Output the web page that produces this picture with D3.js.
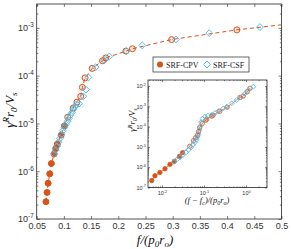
<!DOCTYPE html>
<html>
<head>
<meta charset="utf-8">
<script src="https://cdn.jsdelivr.net/npm/d3@7"></script>
<style>
  body { margin: 0; background: #fff; }
</style>
</head>
<body>
<div id="chart"></div>
<script>
// main panel: SRF-CPV (orange circles)
const cpvF = [0.067, 0.069, 0.071, 0.074, 0.077, 0.082, 0.085, 0.088, 0.095, 0.101, 0.107, 0.117, 0.124, 0.131, 0.134, 0.139, 0.152, 0.171, 0.177, 0.214, 0.226, 0.298, 0.418];
const cpvY = [2.3e-7, 3.6e-7, 5.6e-7, 8.8e-7, 1.45e-6, 2.3e-6, 3.0e-6, 3.7e-6, 5.7e-6, 8.9e-6, 1.35e-5, 2.1e-5, 2.8e-5, 3.7e-5, 5.7e-5, 9.0e-5, 1.42e-4, 2.05e-4, 2.35e-4, 3.27e-4, 3.66e-4, 5.7e-4, 9.1e-4];
// main panel: SRF-CSF (blue diamonds)
const csfF = [0.082, 0.0846, 0.0873, 0.0901, 0.0928, 0.0956, 0.0983, 0.1011, 0.1039, 0.1066, 0.1094, 0.1121, 0.1149, 0.1176, 0.1204, 0.1232, 0.1278, 0.1357, 0.1406, 0.145, 0.1584, 0.1742, 0.1834, 0.2154, 0.2441, 0.306, 0.3672, 0.4604];
const csfY = [2.3e-6, 2.75e-6, 3.34e-6, 4.05e-6, 4.9e-6, 5.95e-6, 7.05e-6, 8.3e-6, 9.6e-6, 1.11e-5, 1.28e-5, 1.48e-5, 1.71e-5, 1.98e-5, 2.23e-5, 2.52e-5, 2.6e-5, 3.7e-5, 5.1e-5, 9.2e-5, 1.51e-4, 2.09e-4, 2.53e-4, 3.27e-4, 4.3e-4, 5.73e-4, 7.77e-4, 1.04e-3];
// dashed fit continues past the last point
const fitTailF = [0.5];
const fitTailY = [1.16e-3];

// inset: (f - fc) vs rate, log-log
const inCpvX = [0.0057, 0.0068, 0.0089, 0.0118, 0.0155, 0.0196, 0.026, 0.031, 0.046, 0.056, 0.063, 0.07, 0.074, 0.079, 0.091, 0.11, 0.116, 0.153, 0.165, 0.237, 0.357, 0.72, 0.86, 1.07, 1.24];
const inCpvY = [2.2e-7, 3.8e-7, 5.5e-7, 8.4e-7, 1.38e-6, 1.94e-6, 3.4e-6, 5.2e-6, 1.07e-5, 2.0e-5, 2.8e-5, 3.7e-5, 5.7e-5, 9.0e-5, 1.42e-4, 2.05e-4, 2.35e-4, 3.27e-4, 3.66e-4, 5.7e-4, 9.1e-4, 2.75e-3, 3.2e-3, 5.2e-3, 7.7e-3];
const inCsfX = [0.0193, 0.0228, 0.0268, 0.0316, 0.0373, 0.0427, 0.049, 0.0547, 0.061, 0.066, 0.07, 0.074, 0.077, 0.081, 0.086, 0.092, 0.106, 0.124, 0.152, 0.183, 0.219, 0.288, 0.347, 0.457, 0.601, 0.76, 0.946, 1.13, 1.49];
const inCsfY = [1.83e-6, 2.43e-6, 3.05e-6, 4.06e-6, 5.4e-6, 7.2e-6, 9.5e-6, 1.27e-5, 1.69e-5, 2.25e-5, 3.0e-5, 4.2e-5, 6.6e-5, 1.05e-4, 1.65e-4, 2.46e-4, 3.09e-4, 3.47e-4, 3.67e-4, 4.6e-4, 5.8e-4, 7.9e-4, 9.4e-4, 1.39e-3, 2.03e-3, 2.7e-3, 4.35e-3, 6.3e-3, 9.2e-3];

const xTicks = [0.05, 0.1, 0.15, 0.2, 0.25, 0.3, 0.35, 0.4, 0.45, 0.5];
const yTicks = [1e-7, 1e-6, 1e-5, 1e-4, 1e-3];
const inXTicks = [1e-2, 1e-1, 1];
const inYTicks = [1e-7, 1e-6, 1e-5, 1e-4, 1e-3, 1e-2];
const seriesNames = ["SRF-CPV", "SRF-CSF"];

const orange = "#D95319";
const blue = "#4DBEEE";
const axisCol = "#262626";
const serif = "'Liberation Serif', 'DejaVu Serif', serif";

const W = 291, H = 249;
const svg = d3.select("#chart").append("svg")
  .attr("width", W).attr("height", H)
  .style("font-family", "'Liberation Sans', Arial, sans-serif");

function diamond(r) {
  return `M0,${-r}L${r},0L0,${r}L${-r},0Z`;
}

function minorLogTicks(scale) {
  const [a, b] = scale.domain();
  const out = [];
  for (let e = Math.floor(Math.log10(a)); e <= Math.ceil(Math.log10(b)); e++) {
    for (let m = 2; m <= 9; m++) {
      const v = m * Math.pow(10, e);
      if (v >= a && v <= b) out.push(v);
    }
  }
  return out;
}

function powLabel(sel, fs) {
  sel.each(function(d) {
    const t = d3.select(this);
    const e = Math.round(Math.log10(d));
    t.text("");
    t.append("tspan").text("10");
    t.append("tspan").attr("dy", -fs * 0.45).style("font-size", (fs * 0.7) + "px").text(e);
  });
}

// boxed frame, inward ticks on all four sides
function drawFrame(g, x, y, opt) {
  const [x0, x1] = x.range();
  const [y0, y1] = y.range();
  const styleAxis = a => {
    a.select(".domain").remove();
    a.selectAll("line").attr("stroke", axisCol).attr("stroke-width", 0.6);
    a.selectAll("text").attr("fill", "#333").style("font-size", opt.fs + "px");
  };

  if (opt.xMinor) {
    const mx = minorLogTicks(x);
    g.append("g").attr("transform", `translate(0,${y0})`)
      .call(d3.axisBottom(x).tickValues(mx).tickSizeInner(-opt.minor).tickSizeOuter(0).tickFormat(""))
      .call(styleAxis);
    g.append("g").attr("transform", `translate(0,${y1})`)
      .call(d3.axisTop(x).tickValues(mx).tickSizeInner(-opt.minor).tickSizeOuter(0).tickFormat(""))
      .call(styleAxis);
  }
  if (opt.yMinor) {
    const my = minorLogTicks(y);
    g.append("g").attr("transform", `translate(${x0},0)`)
      .call(d3.axisLeft(y).tickValues(my).tickSizeInner(-opt.minor).tickSizeOuter(0).tickFormat(""))
      .call(styleAxis);
    g.append("g").attr("transform", `translate(${x1},0)`)
      .call(d3.axisRight(y).tickValues(my).tickSizeInner(-opt.minor).tickSizeOuter(0).tickFormat(""))
      .call(styleAxis);
  }

  const bx = g.append("g").attr("transform", `translate(0,${y0})`)
    .call(d3.axisBottom(x).tickValues(opt.xTicks).tickSizeInner(-opt.major).tickSizeOuter(0)
      .tickPadding(opt.xPad).tickFormat(opt.xFormat || (d => d)))
    .call(styleAxis);
  if (opt.xPow) powLabel(bx.selectAll("text"), opt.fs);

  g.append("g").attr("transform", `translate(0,${y1})`)
    .call(d3.axisTop(x).tickValues(opt.xTicks).tickSizeInner(-opt.major).tickSizeOuter(0).tickFormat(""))
    .call(styleAxis);

  const ly = g.append("g").attr("transform", `translate(${x0},0)`)
    .call(d3.axisLeft(y).tickValues(opt.yTicks).tickSizeInner(-opt.major).tickSizeOuter(0).tickPadding(opt.yPad))
    .call(styleAxis);
  powLabel(ly.selectAll("text"), opt.fs);

  g.append("g").attr("transform", `translate(${x1},0)`)
    .call(d3.axisRight(y).tickValues(opt.yTicks).tickSizeInner(-opt.major).tickSizeOuter(0).tickFormat(""))
    .call(styleAxis);

  g.append("rect")
    .attr("x", x0).attr("y", y1).attr("width", x1 - x0).attr("height", y0 - y1)
    .attr("fill", "none").attr("stroke", axisCol).attr("stroke-width", 0.8);
}

// ---------- main panel ----------
const x = d3.scaleLinear().domain([0.05, 0.5]).range([36.7, 281.5]);
const y = d3.scaleLog().domain([1e-7, Math.pow(10, -2.5)]).range([219, 4]);

const main = svg.append("g");

drawFrame(main, x, y, {
  xTicks: xTicks, yTicks: yTicks, major: 3, minor: 1.6, fs: 9,
  xPad: 4, yPad: 3, yMinor: true, xFormat: d => String(+d.toFixed(2))
});

const cpvPts = cpvF.map((f, i) => ({ x: f, y: cpvY[i] }));
const csfPts = csfF.map((f, i) => ({ x: f, y: csfY[i] }));
const fitPts = cpvPts.concat(fitTailF.map((f, i) => ({ x: f, y: fitTailY[i] })));

const line = d3.line().x(d => x(d.x)).y(d => y(d.y));

main.append("path").datum(fitPts)
  .attr("fill", "none").attr("stroke", orange).attr("stroke-width", 1)
  .attr("stroke-dasharray", "4,3").attr("d", line);

main.selectAll(".cpv").data(cpvPts).join("circle")
  .attr("cx", d => x(d.x)).attr("cy", d => y(d.y)).attr("r", 3)
  .attr("fill", orange).attr("fill-opacity", d => d.y < 1e-5 ? 1 : 0.15)
  .attr("stroke", orange).attr("stroke-width", 1);

main.selectAll(".csf").data(csfPts).join("path")
  .attr("transform", d => `translate(${x(d.x)},${y(d.y)})`)
  .attr("d", diamond(3.4))
  .attr("fill", "none").attr("stroke", blue).attr("stroke-width", 1);

// axis labels
main.append("text")
  .attr("x", 155).attr("y", 244).attr("text-anchor", "middle")
  .style("font-family", serif).style("font-style", "italic")
  .style("font-size", "13px").attr("fill", "#111")
  .call(t => {
    t.append("tspan").text("f/(p");
    t.append("tspan").attr("dy", 3).style("font-size", "9px").text("0");
    t.append("tspan").attr("dy", -3).text("r");
    t.append("tspan").attr("dy", 3).style("font-size", "9px").text("o");
    t.append("tspan").attr("dy", -3).text(")");
  });

main.append("text")
  .attr("transform", "translate(14,110) rotate(-90)").attr("text-anchor", "middle")
  .style("font-family", serif).style("font-style", "italic")
  .style("font-size", "13px").attr("fill", "#111")
  .call(t => {
    t.append("tspan").text("γ̇");
    t.append("tspan").attr("dy", -5).style("font-size", "9px").text("R");
    t.append("tspan").attr("dy", 5).text("r");
    t.append("tspan").attr("dy", 3).style("font-size", "9px").text("0");
    t.append("tspan").attr("dy", -3).text("/V");
    t.append("tspan").attr("dy", 3).style("font-size", "9px").text("s");
  });

// legend
const leg = main.append("g").attr("transform", "translate(153,57)");
leg.append("rect").attr("width", 96).attr("height", 15)
  .attr("fill", "#fff").attr("stroke", axisCol).attr("stroke-width", 0.7);
leg.append("circle").attr("cx", 7).attr("cy", 7.5).attr("r", 3).attr("fill", orange);
leg.append("path").attr("transform", "translate(54,7.5)").attr("d", diamond(3.4))
  .attr("fill", "none").attr("stroke", blue).attr("stroke-width", 1);
leg.selectAll(".lt").data(seriesNames).join("text")
  .attr("x", (d, i) => i === 0 ? 13 : 60).attr("y", 10.5)
  .style("font-family", serif).style("font-size", "8px")
  .attr("fill", "#222").text(d => d);

// ---------- inset ----------
const ix = d3.scaleLog().domain([Math.pow(10, -2.333), Math.pow(10, 0.5)]).range([148, 267]);
const iy = d3.scaleLog().domain([1e-7, Math.pow(10, -1.703)]).range([187.5, 80]);

const inset = svg.append("g");
inset.append("rect").attr("x", 148).attr("y", 80).attr("width", 119).attr("height", 107.5).attr("fill", "#fff");

drawFrame(inset, ix, iy, {
  xTicks: inXTicks, yTicks: inYTicks, major: 2, minor: 1.1, fs: 5.5,
  xPad: 4, yPad: 2, xMinor: true, yMinor: true, xPow: true
});

const inCpv = inCpvX.map((v, i) => ({ x: v, y: inCpvY[i] }));
const inCsf = inCsfX.map((v, i) => ({ x: v, y: inCsfY[i] }));
const iline = d3.line().x(d => ix(d.x)).y(d => iy(d.y));

inset.append("path").datum(inCpv)
  .attr("fill", "none").attr("stroke", orange).attr("stroke-width", 0.7).attr("d", iline);

inset.selectAll(".icpv").data(inCpv).join("circle")
  .attr("cx", d => ix(d.x)).attr("cy", d => iy(d.y)).attr("r", 2.2)
  .attr("fill", orange).attr("fill-opacity", d => d.y < 1e-5 ? 1 : 0.15)
  .attr("stroke", orange).attr("stroke-width", 0.8);

inset.selectAll(".icsf").data(inCsf).join("path")
  .attr("transform", d => `translate(${ix(d.x)},${iy(d.y)})`)
  .attr("d", diamond(2.5))
  .attr("fill", "none").attr("stroke", blue).attr("stroke-width", 0.9);

inset.append("text")
  .attr("x", 207).attr("y", 203).attr("text-anchor", "middle")
  .style("font-family", serif).style("font-style", "italic")
  .style("font-size", "8.5px").attr("fill", "#111")
  .call(t => {
    t.append("tspan").text("(f − f");
    t.append("tspan").attr("dy", 2).style("font-size", "6px").text("c");
    t.append("tspan").attr("dy", -2).text(")/(p");
    t.append("tspan").attr("dy", 2).style("font-size", "6px").text("0");
    t.append("tspan").attr("dy", -2).text("r");
    t.append("tspan").attr("dy", 2).style("font-size", "6px").text("o");
    t.append("tspan").attr("dy", -2).text(")");
  });

inset.append("text")
  .attr("transform", "translate(135,120) rotate(-90)").attr("text-anchor", "middle")
  .style("font-family", serif).style("font-style", "italic")
  .style("font-size", "8.5px").attr("fill", "#111")
  .call(t => {
    t.append("tspan").text("γ̇");
    t.append("tspan").attr("dy", -3).style("font-size", "6px").text("R");
    t.append("tspan").attr("dy", 3).text("r");
    t.append("tspan").attr("dy", 2).style("font-size", "6px").text("0");
    t.append("tspan").attr("dy", -2).text("/V");
    t.append("tspan").attr("dy", 2).style("font-size", "6px").text("s");
  });
</script>
</body>
</html>
